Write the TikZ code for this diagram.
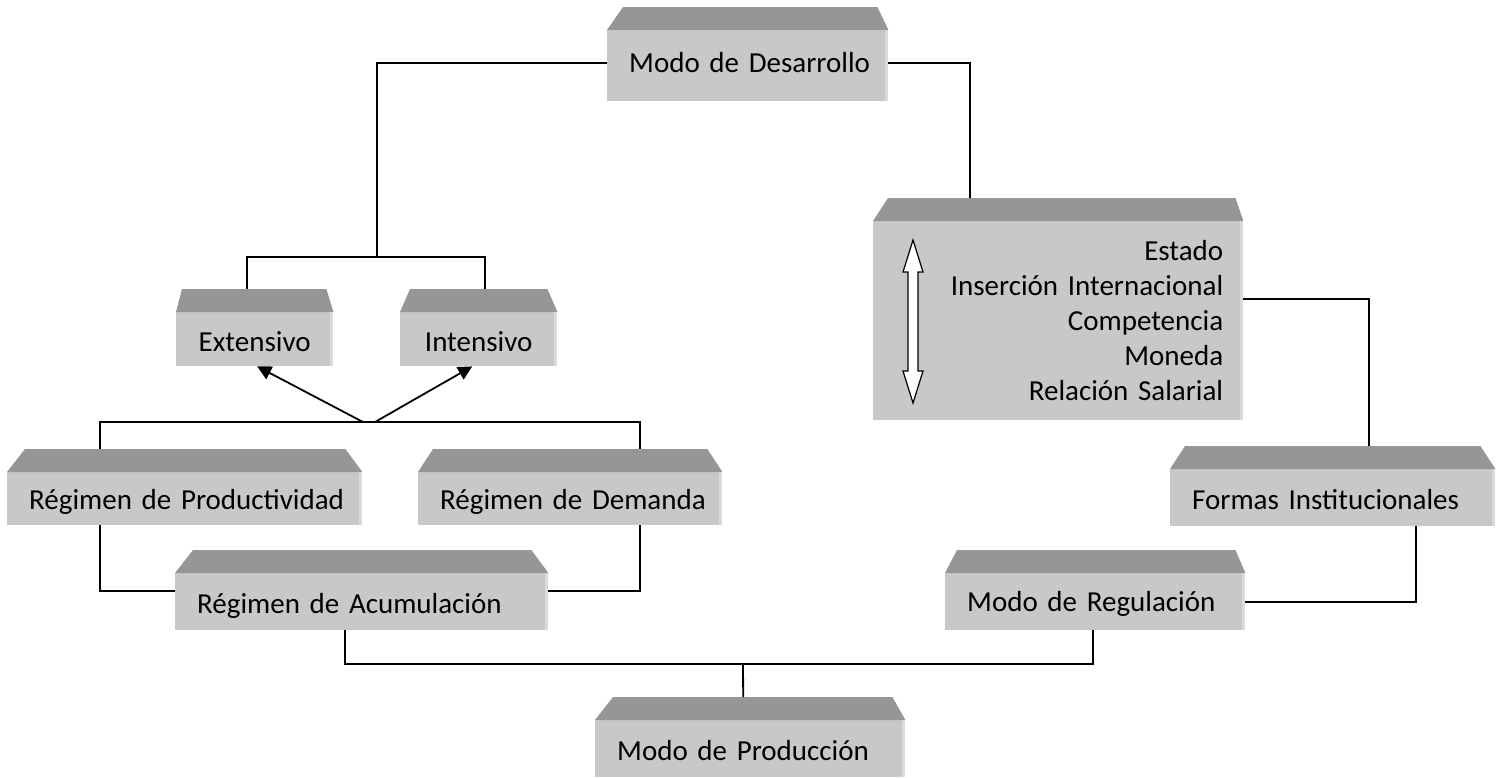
\documentclass[tikz,border=0pt]{standalone}
\usepackage{fontspec}
\setmainfont{Carlito}
\usetikzlibrary{arrows.meta, positioning}

\definecolor{frontgray}{RGB}{200,200,200}
\definecolor{bevelgray}{RGB}{150,150,150}
\definecolor{edgegray}{RGB}{218,218,218}

% slanted top face and light right edge of a box: name, left inset, right inset
\newcommand{\bevel}[3]{%
  \fill[bevelgray] (#1.north west) -- ([xshift=#2pt, yshift=23pt]#1.north west)
    -- ([xshift=-#3pt, yshift=23pt]#1.north east) -- (#1.north east) -- cycle;
  \fill[edgegray] ([xshift=-3pt]#1.north east) rectangle (#1.south east);
}

\begin{document}
\begin{tikzpicture}[
			x=1pt, y=-1pt,
			font=\fontsize{29pt}{35pt}\selectfont,
			box/.style={fill=frontgray, anchor=north west, inner xsep=22pt, inner ysep=0pt, align=left,
				text height=25.5pt, text depth=2.5pt},
			link/.style={line width=1.8pt},
			arrow/.style={-{Triangle[length=14pt, width=14pt]}, line width=1.8pt}
			]
			\useasboundingbox (0,0) rectangle (1503,777);
			
			% ---------------- TOP ----------------
			\node[box, text width=237pt, minimum height=71pt, text height=20.5pt, text depth=7.5pt] (desarrollo) at (607,30) {\mbox{Modo de Desarrollo}};
			\bevel{desarrollo}{16}{11}
			
			% ---------------- LEFT BRANCH ----------------
			\node[box, inner xsep=10pt, text width=137pt, minimum height=54pt, align=center, text height=26pt, text depth=2pt] (extensivo) at (176,312) {Extensivo};
			\node[box, inner xsep=10pt, text width=137pt, minimum height=54pt, align=center, text height=26pt, text depth=2pt] (intensivo) at (400,312) {Intensivo};
			\bevel{extensivo}{6}{7}
			\bevel{intensivo}{10}{10}
			
			\node[box, text width=311pt, minimum height=53pt, text height=24.5pt, text depth=3.5pt] (productividad) at (7,472) {\mbox{Régimen de Productividad}};
			\node[box, text width=260pt, minimum height=53pt, text height=24.5pt, text depth=3.5pt] (demanda) at (418,472) {\mbox{Régimen de Demanda}};
			\fill[frontgray] ([yshift=11pt]productividad.south west) rectangle (productividad.south east);
			\fill[frontgray] ([yshift=11pt]demanda.south west) rectangle (demanda.south east);
			\bevel{productividad}{18}{17}
			\bevel{demanda}{15}{15}
			
			\node[box, text width=329pt, minimum height=57pt] (acumulacion) at (175,573) {\mbox{Régimen de Acumulación}};
			\bevel{acumulacion}{18}{17}
			
			% ---------------- RIGHT BRANCH ----------------
			\node[box, text width=330pt, inner xsep=20pt, minimum height=199pt, align=right, text height=, text depth=] (instituciones) at (873,221)
				{Estado\\Inserción Internacional\\Competencia\\Moneda\\Relación Salarial};
			\bevel{instituciones}{15}{8}
			\filldraw[fill=white, line width=1.2pt] (913,240) -- (923,272) -- (918,272) -- (918,371) -- (923,371)
				-- (913,403) -- (903,371) -- (908,371) -- (908,272) -- (903,272) -- cycle;
			
			\node[box, text width=281pt, minimum height=57pt] (formasinst) at (1170,469) {\mbox{Formas Institucionales}};
			\node[box, text width=256pt, minimum height=57pt, text height=23.5pt, text depth=4.5pt] (regulacion) at (945,573) {\mbox{Modo de Regulación}};
			\bevel{formasinst}{15}{15}
			\bevel{regulacion}{12}{10}
			
			% ---------------- BOTTOM ----------------
			\node[box, text width=266pt, minimum height=57pt] (produccion) at (595,720) {\mbox{Modo de Producción}};
			\bevel{produccion}{18}{13}
			
			% ---------------- CONNECTORS ----------------
			\coordinate (splitA) at (377,257);
			\coordinate (splitC) at (369,422);
			\coordinate (joinB) at (743,664);
			
			\draw[link] ([yshift=2.5pt]desarrollo.west) -| (splitA);
			\draw[link] ([xshift=-7.5pt, yshift=23pt]extensivo.north) |- (splitA) -| ([xshift=6.5pt, yshift=23pt]intensivo.north);
			\draw[link] ([yshift=2.5pt]desarrollo.east) -| ([xshift=-88pt, yshift=23pt]instituciones.north);
			\draw[link] ([yshift=21.5pt]instituciones.east) -| ([xshift=36.5pt, yshift=23pt]formasinst.north);
			\draw[link] ([xshift=83.5pt]formasinst.south) |- (regulacion.east);
			
			\draw[link] ([xshift=-84.5pt, yshift=23pt]productividad.north) |- (splitC) -| ([xshift=70pt, yshift=23pt]demanda.north);
			\draw[arrow] ([xshift=-6pt]splitC) -- ([xshift=2.5pt]extensivo.south);
			\draw[arrow] ([xshift=6pt]splitC) -- ([xshift=-6.5pt]intensivo.south);
			\draw[link] ([xshift=-84.5pt]productividad.south) |- ([yshift=10.5pt]acumulacion.west);
			\draw[link] ([xshift=70pt]demanda.south) |- ([yshift=10.5pt]acumulacion.east);
			
			\draw[link] ([xshift=-16.5pt]acumulacion.south) |- (joinB) -| ([xshift=-2pt]regulacion.south);
			\draw[link] (joinB) -- ([xshift=-7pt, yshift=23pt]produccion.north);
			
		\end{tikzpicture}
\end{document}
